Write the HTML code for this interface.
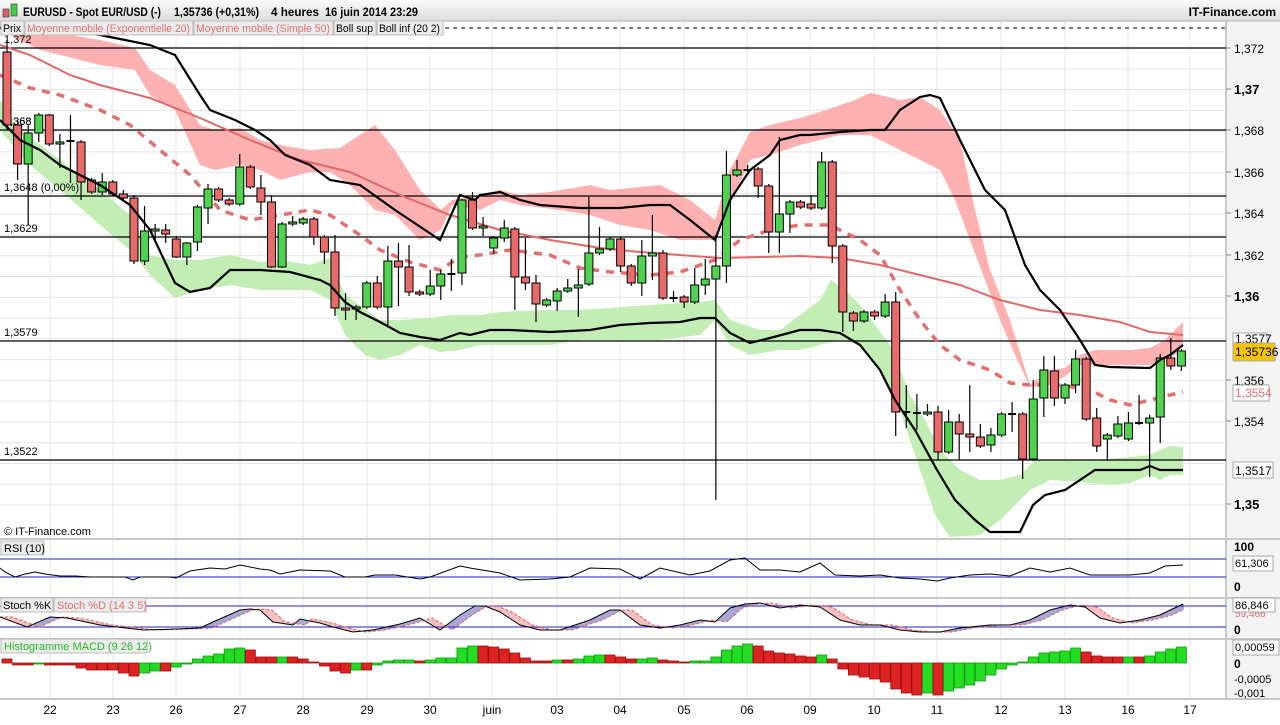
<!DOCTYPE html>
<html><head><meta charset="utf-8">
<style>
body{margin:0;width:1280px;height:720px;overflow:hidden;background:#fff;font-family:"Liberation Sans",sans-serif;}
svg text{font-family:"Liberation Sans",sans-serif;}
</style></head><body>
<svg id="s" width="1280" height="720" xmlns="http://www.w3.org/2000/svg"></svg>
<script>
const S=document.getElementById('s');let h='';
const I=(pts,x)=>{for(let i=0;i<pts.length-1;i++){if(x<=pts[i+1][0]){const a=pts[i],b=pts[i+1];return a[1]+(b[1]-a[1])*(x-a[0])/(b[0]-a[0]);}}return pts[pts.length-1][1];};
const P=o=>Object.entries(o).map(([k,v])=>[+k,v]);
const pl=(pts,st)=>`<polyline fill="none" points="${pts.map(p=>p.join(',')).join(' ')}" ${st}/>`;
const band=(t,b,fill)=>`<polygon fill="${fill}" points="${t.map(p=>p.join(',')).join(' ')} ${b.slice().reverse().map(p=>p.join(',')).join(' ')}"/>`;
// header
h+=`<defs><linearGradient id="hg" x1="0" y1="0" x2="0" y2="1"><stop offset="0" stop-color="#fbfbfb"/><stop offset="1" stop-color="#dcdcdc"/></linearGradient></defs>`;
h+=`<rect x="0" y="0" width="1280" height="21" fill="url(#hg)"/><line x1="0" y1="21" x2="1280" y2="21" stroke="#aaa"/>`;
h+=`<rect x="3" y="9" width="6" height="8" fill="#e06060" stroke="#333" stroke-width=".6"/><rect x="11" y="4" width="6" height="12" fill="#40d040" stroke="#333" stroke-width=".6"/>`;
h+=`<text x="23" y="16" font-size="12" font-weight="bold" textLength="138" lengthAdjust="spacingAndGlyphs">EURUSD - Spot EUR/USD (-)</text><text x="174" y="16" font-size="12" font-weight="bold" textLength="85" lengthAdjust="spacingAndGlyphs">1,35736 (+0,31%)</text><text x="271" y="16" font-size="12" font-weight="bold" textLength="48" lengthAdjust="spacingAndGlyphs">4 heures</text><text x="325" y="16" font-size="12" font-weight="bold" textLength="93" lengthAdjust="spacingAndGlyphs">16 juin 2014 23:29</text>`;
h+=`<text x="1276" y="16" font-size="12" font-weight="bold" text-anchor="end">IT-Finance.com</text>`;
// right axis area
h+=`<rect x="1226" y="22" width="54" height="676" fill="#f3f3f3"/><line x1="1226" y1="22" x2="1226" y2="698" stroke="#999"/>`;
// grid
const yP=p=>48+(1.372-p)*20775;
for(let p=1.350;p<=1.3725;p+=0.001){const y=yP(p);h+=`<line x1="0" y1="${y}" x2="1226" y2="${y}" stroke="#e4e4e4"/>`;}
const days=[[50,'22'],[113,'23'],[176,'26'],[240,'27'],[303,'28'],[367,'29'],[430,'30'],[492,'juin'],[557,'03'],[620,'04'],[684,'05'],[747,'06'],[810,'09'],[874,'10'],[937,'11'],[1001,'12'],[1065,'13'],[1128,'16'],[1190,'17']];
days.forEach(d=>{h+=`<line x1="${d[0]}" y1="22" x2="${d[0]}" y2="698" stroke="#e4e4e4"/>`;});
// bands
const pT=P({0:22,40:30,100:40,135:48,150:70,175:85,200:125,215:130,240:128,260:140,280:145,310:150,340:148,375:125,395:150,420:190,441:210,452:200,480:195,500:190,520:195,550:192,590:185,610:190,640:187,660:185,690:200,715:220,730:170,750:132,770:125,800:118,820:112,840:105,855:100,870:93,880:95,900:100,920:97,940:110,960:140,975:210,990:270,1010:320,1030:385,1050:370,1065:368,1080:355,1095:350,1130:350,1150:348,1165:340,1175:330,1183:322});
const pB=P({0:30,40:50,100:65,135:70,150:95,175:110,200:165,215:170,240:165,260:170,280:180,310:172,330:172,350:185,375:210,395:215,420:240,441:230,452:205,480:210,500:200,520:205,560:210,590:215,620:225,650:230,680:240,700:240,715:240,730:205,750:160,770:155,800:145,820:140,840:135,870:135,880:140,900:150,920:160,940:170,955:200,970:240,985:280,1000:320,1015:355,1030:387,1050:385,1065:376,1080:365,1090:365,1130:365,1150:365,1165:360,1175:355,1183:345});
const gT=P({0:100,20:130,60:160,100:190,130:215,150:255,175:260,200:260,230:255,260:262,280:260,310:265,330:258,345:295,360:305,380:320,400:320,430:318,450:315,480:315,500:312,550:310,580:310,610:308,650:305,700:302,715:300,730:320,760:330,780:330,800:315,820:300,831:280,845:290,860:305,875:325,890:345,900:370,910:395,925:420,940:450,960:470,980:480,1000:480,1020:475,1035:460,1060:460,1090:460,1120:458,1150:455,1160:450,1170:446,1183:447});
const gB=P({0:130,30:165,60:190,100:225,130:250,150:275,175:298,200:290,230:285,260:290,280:290,310:290,330:300,345:335,365:355,380:360,400:355,420:345,440:352,460:350,480:345,520:345,550:345,580:340,620:340,660:340,700:335,715:320,730:345,750:355,780:350,800:350,820:345,840:340,860:345,880:370,900:410,920:470,935:515,950:537,980:535,1000:520,1030:490,1050:480,1080:482,1110:485,1130:483,1150:475,1160:480,1170:475,1183:475});
h+=band(pT,pB,'#ffb0b0')+band(gT,gB,'#c2edb4');
// hlines
[[48,'1,372'],[130,'1,368'],[196,'1,3648 (0,00%)'],[237,'1,3629'],[341,'1,3579'],[460,'1,3522']].forEach(l=>{h+=`<line x1="0" y1="${l[0]}" x2="1226" y2="${l[0]}" stroke="#000" stroke-width="1.2"/><text x="4" y="${l[0]-5}" font-size="11">${l[1]}</text>`;});
h+=`<text x="4" y="125" font-size="11">1,368</text>`;
h+=`<line x1="445" y1="28" x2="1226" y2="28" stroke="#000" stroke-dasharray="4,4"/>`;
// MAs
const sma=P({0:45,30:55,70:75,100:85,150:98,200:118,250:140,300:160,350:172,400:195,450:215,500:230,550:240,600:248,640:252,680:255,720:258,760:257,800:256,840:258,880:265,920:275,960:285,1000:300,1040:310,1080:315,1120:322,1150:332,1183:335});
const ema=P({0:75,30:88,60:95,100:110,130:125,160:150,190:175,220:210,250:220,280:215,310:210,330:215,360:235,380:250,410:262,440:270,460:257,480:255,510:250,550:255,580:268,610:272,650:275,680:272,715:260,740:240,770:230,800:225,830:225,860:240,880:255,900:290,920:320,940:345,960:360,990:370,1010:383,1030:385,1060:385,1090:390,1110:400,1130:405,1150:400,1170:395,1183:392});
h+=pl(sma,'stroke="#e06868" stroke-width="2"');
h+=pl(ema,'stroke="#e07070" stroke-width="3.5" stroke-dasharray="8,7"');
// candles
const C=[[52,125,40,130],[125,164,122,180],[164,133,125,225],[133,115,113,142],[115,144,114,146],[144,142,134,168],[141,141,115,183],[142,182,140,200],[180,192,178,194],[192,182,173,195],[182,194,180,196],[194,198,190,200],[198,261,195,264],[261,231,206,265],[231,229,224,240],[230,234,224,243],[239,257,236,258],[257,243,242,265],[242,207,205,251],[208,189,184,224],[189,200,187,202],[200,204,198,206],[204,167,154,206],[167,187,165,189],[188,202,175,215],[202,267,195,268],[267,224,222,268],[224,222,216,226],[223,219,217,225],[219,237,217,245],
[237,252,235,264],[252,308,235,316],[308,310,293,320],[309,307,305,320],[307,283,281,309],[283,307,276,309],[307,261,246,325],[261,267,243,306],[267,292,245,296],[292,294,290,296],[294,286,270,296],[286,274,270,300],[274,274,259,291],[273,200,199,285],[200,228,192,230],[228,226,217,236],[248,238,236,254],[238,228,220,242],[229,277,227,310],[277,283,238,290],[283,304,275,322],[305,300,298,307],[301,291,288,311],[291,288,279,293],[288,285,269,317],[284,253,197,286],[253,249,227,255],[249,239,237,251],[239,266,237,272],
[266,283,264,286],[283,256,240,296],[256,253,215,280],[253,298,250,300],[298,298,291,302],[297,302,295,308],[302,285,268,304],[285,279,259,295],[279,266,235,500],[266,175,151,283],[175,170,160,177],[170,170,165,173],[169,186,167,198],[186,232,184,253],[232,214,137,253],[214,202,200,233],[202,207,200,209],[204,208,195,210],[208,162,152,210],[162,246,160,263],[246,312,244,332],[313,321,311,331],[321,312,310,323],[312,316,310,320],[316,302,294,318],[302,412,292,436],[412,412,385,428],[413,413,394,430],[414,412,404,416],[412,452,406,460],[452,422,410,454],
[422,434,414,460],[434,437,385,452],[437,446,424,448],[445,435,428,452],[435,414,412,437],[414,414,402,432],[414,459,412,479],[459,399,380,461],[398,370,356,417],[371,398,356,406],[398,385,383,404],[385,359,350,393],[359,419,357,421],[418,446,408,452],[439,435,433,461],[436,424,416,438],[439,423,412,441],[423,423,395,425],[423,418,415,477],[417,358,354,443],[358,366,338,370],[366,351,349,371]];
C.forEach((c,i)=>{const x=7+10.58*i;const t=Math.min(c[0],c[1]),b=Math.max(c[0],c[1]);
h+=`<line x1="${x}" y1="${c[2]}" x2="${x}" y2="${c[3]}" stroke="#000" stroke-width="1.2"/>`;
if(b-t<1.5)h+=`<line x1="${x-4}" y1="${t}" x2="${x+4}" y2="${t}" stroke="#000" stroke-width="2"/>`;
else h+=`<rect x="${x-4}" y="${t}" width="8" height="${b-t}" fill="${c[1]<c[0]?'#4fd34f':'#e86a6a'}" stroke="#000" stroke-width="1"/>`;});
// boll lines
const bu=P({0:28,30:28,60:30,100:35,125:40,150:45,175:55,200:95,210:110,235:120,255:130,270:140,285:155,310:165,330:180,360:185,395:210,425:230,440:240,460:195,475:200,480:195,500:192,520:200,540:205,580:208,620:208,650:205,670:205,690:220,715:240,730:200,750:170,770:155,780:140,800:135,810:135,840:132,870:130,885:130,900:110,920:97,930:95,940:98,960:140,985:190,1005:210,1025:265,1040:290,1060:310,1080:340,1095:365,1110:367,1150:368,1160:360,1170:355,1183:345});
const bl=P({0:120,20:140,40:150,60:165,100:185,130:205,150:230,175:283,190:292,210:288,230:270,260:270,290:272,320:280,330:285,345:302,360:312,380:322,400:333,420:337,440:340,460:333,470:335,490:330,510:330,550:332,590:330,620:325,650:323,680:322,700:318,715:318,730:333,750:343,770:338,800:330,820:330,840:333,860:345,880:370,895:400,915:430,937:470,955:500,975:520,990:532,1020:532,1033:505,1045:495,1065:490,1080:480,1095:470,1120:470,1140:470,1150:466,1160:470,1183:470});
h+=pl(bu,'stroke="#000" stroke-width="2.2"')+pl(bl,'stroke="#000" stroke-width="2.2"');
// legend row
[[1,24,'Prix','#000'],[25,193,'Moyenne mobile (Exponentielle 20)','#e07070'],[194,333,'Moyenne mobile (Simple 50)','#e07070'],[334,376,'Boll sup','#000'],[377,443,'Boll inf (20 2)','#000']].forEach(l=>{h+=`<rect x="${l[0]}" y="21" width="${l[1]-l[0]}" height="14" fill="#ececec" stroke="#bbb"/><text x="${l[0]+2}" y="32" font-size="11" fill="${l[3]}" textLength="${l[1]-l[0]-5}" lengthAdjust="spacingAndGlyphs">${l[2]}</text>`;});
h+=`<text x="4" y="535" font-size="11">© IT-Finance.com</text>`;
// right axis labels
[[48,'1,372'],[89,'1,37'],[130,'1,368'],[172,'1,366'],[213,'1,364'],[255,'1,362'],[296,'1,36'],[380,'1,356'],[421,'1,354'],[504,'1,35']].forEach(l=>{h+=`<line x1="1226" y1="${l[0]}" x2="1231" y2="${l[0]}" stroke="#888"/><text x="1234" y="${l[0]+5}" font-size="${l[1].length<5?13:12}" font-weight="${l[1].length<5?'bold':'normal'}">${l[1]}</text>`;});
h+=`<rect x="1233" y="333" width="34" height="10" fill="#fff" stroke="#aaa"/><text x="1235" y="343" font-size="12">1,3577</text>`;
h+=`<rect x="1233" y="343" width="42" height="18" fill="#f6c400" stroke="#aaa"/><text x="1235" y="356" font-size="12">1,35736</text>`;
h+=`<rect x="1233" y="385" width="36" height="16" fill="#fff" stroke="#aaa"/><text x="1235" y="397" font-size="12" fill="#e07070">1,3554</text>`;
h+=`<rect x="1233" y="462" width="40" height="16" fill="#fff" stroke="#aaa"/><text x="1235" y="475" font-size="12">1,3517</text>`;
// panel separators
[538,597,638,698].forEach(s=>{h+=`<rect x="0" y="${s}" width="1280" height="2" fill="#c8c8c8"/>`;});
// RSI
h+=`<line x1="0" y1="559" x2="1226" y2="559" stroke="#2222cc"/><line x1="0" y1="577" x2="1226" y2="577" stroke="#2222cc"/>`;
const rsi=P({0:568,5:572,15:577,25:574,35:572,45:574,60:576,75:576,90:577,110:577,125:577,133:580,140:577,150:577,170:577,176:578,190:571,210:568,225:569,240:565,260:569,270:570,280:574,300:570,330:571,345:577,365:577,375:575,395:575,420:579,430:577,460:566,470:568,500:573,520:580,550:579,570:577,590:568,620:569,640:579,660:568,690:575,710:571,730:560,745:558,760:570,780:570,800:572,820:563,835:575,860:576,880:575,900:578,920:579,937:581,950:578,970:575,990:574,1010:576,1030:568,1050:572,1070:568,1090:575,1110:575,1130:575,1150:573,1165:566,1183:565});
h+=pl(rsi,'stroke="#000" stroke-width="1"');
h+=`<rect x="1" y="541" width="43" height="14" fill="#ececec" stroke="#bbb"/><text x="4" y="552" font-size="11">RSI (10)</text>`;
h+=`<text x="1234" y="551" font-size="12" font-weight="bold">100</text><rect x="1233" y="556" width="40" height="15" fill="#fff" stroke="#aaa"/><text x="1235" y="567" font-size="11">61,306</text><text x="1234" y="591" font-size="12" font-weight="bold">0</text>`;
// Stoch
const K=P({0:617,27:627,50:617,67:618,100:625,143:630,177:629,200:628,213:622,240:610,250:609,260:610,273:622,293:625,300:619,320:623,333:627,353:632,373:630,400:624,420:618,440:630,460:615,475:606,485:606,500:612,520:625,540:630,560:630,590:620,610:610,620:610,640:625,660:628,680:625,700:620,715:622,730:608,745:604,760:603,780:608,800:605,820:607,840:620,860:625,880:625,900:630,920:632,940:632,960:628,990:625,1010:625,1030:620,1050:610,1070:605,1085:607,1100:618,1120:623,1140:620,1160:615,1183:604});
let dp=[];for(let x=0;x<=1183;x++){const k=I(K,x),d=I(K,Math.max(0,x-12));dp.push([x,d]);if(Math.abs(k-d)>0.3)h+=`<rect x="${x}" y="${Math.min(k,d)}" width="1" height="${Math.abs(k-d)}" fill="${k<d?'#a8a8d8':'#f8c0c0'}"/>`;}
h+=`<line x1="0" y1="606" x2="1226" y2="606" stroke="#2222cc"/><line x1="0" y1="627" x2="1226" y2="627" stroke="#2222cc"/>`;
h+=pl(dp.filter((p,i)=>i%3==0),'stroke="#e07070" stroke-width="1.2" stroke-dasharray="3,2"')+pl(K,'stroke="#000" stroke-width="1"');
h+=`<rect x="1" y="598" width="52" height="14" fill="#ececec" stroke="#bbb"/><text x="3" y="609" font-size="11">Stoch %K</text><rect x="54" y="598" width="92" height="14" fill="#ececec" stroke="#bbb"/><text x="57" y="609" font-size="11" fill="#e07070">Stoch %D (14 3 5)</text>`;
h+=`<text x="1235" y="617" font-size="10" fill="#e07070">59,466</text><rect x="1233" y="598" width="42" height="14" fill="#fff" stroke="#aaa"/><text x="1235" y="609" font-size="11">86,846</text><text x="1234" y="634" font-size="12" font-weight="bold">0</text>`;
// MACD
const M=[4,-2,-2,-1,-2,-2,-2,-5,-7,-7,-7,-10,-13,-10,-8,-8,-4,-1,4,7,9,14,15,13,6,6,6,6,4,1,-3,-8,-10,-7,-7,-2,2,3,3,2,3,5,5,15,17,17,16,14,10,5,2,2,3,3,4,7,8,8,6,4,4,5,3,2,1,2,2,6,13,17,19,17,12,10,9,7,6,8,4,-6,-12,-14,-16,-19,-26,-30,-32,-30,-32,-28,-25,-22,-18,-12,-6,-2,1,6,10,11,12,15,11,7,6,6,6,6,7,11,14,16];
M.forEach((v,i)=>{const x=7+10.58*i;const g=i==0?false:v>M[i-1]||(v==M[i-1]&&v>0&&i%2==0);const y=v>0?663-v:663;h+=`<rect x="${x-5}" y="${y}" width="10" height="${Math.max(1,Math.abs(v))}" fill="${g?'#22dd22':'#dd2222'}" stroke="${g?'#119911':'#991111'}" stroke-width=".8"/>`;});
h+=`<rect x="1" y="639" width="146" height="14" fill="#ececec" stroke="#bbb"/><text x="4" y="650" font-size="11" fill="#22bb22">Histogramme MACD (9 26 12)</text>`;
h+=`<rect x="1233" y="640" width="46" height="15" fill="#fff" stroke="#aaa"/><text x="1235" y="651" font-size="11">0,00059</text><text x="1234" y="668" font-size="12" font-weight="bold">0</text><text x="1234" y="683" font-size="11">-0,0005</text><text x="1234" y="697" font-size="11">-0,001</text>`;
// dates
h+=`<rect x="0" y="700" width="1280" height="20" fill="#ffffff"/>`;
days.forEach(d=>{h+=`<text x="${d[0]}" y="714" font-size="12" text-anchor="middle">${d[1]}</text>`;});
S.innerHTML=h;
</script>
</body></html>
